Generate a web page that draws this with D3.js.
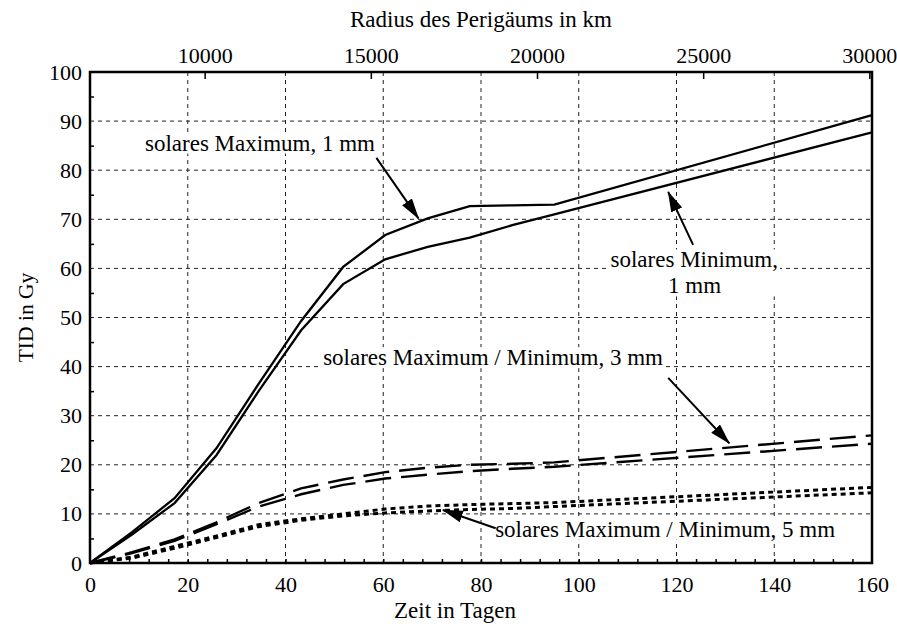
<!DOCTYPE html>
<html>
<head>
<meta charset="utf-8">
<script src="https://cdn.jsdelivr.net/npm/d3@7"></script>
<style>
body { margin: 0; background: #fff; }
text { font-family: "Liberation Serif", "Times New Roman", serif; fill: #000; }
</style>
</head>
<body>
<div id="chart"></div>
<script>
// values: total ionising dose (Gy) over time (days)
var days = [0, 8.6, 17.3, 25.9, 34.5, 43.2, 51.8, 60.4, 69.1, 77.7, 86.4, 95, 160]
var max1mm = [0, 6.3, 13.2, 23.4, 36.5, 49.3, 60.3, 66.8, 70.2, 72.7, 72.85, 73.0, 91.2]
var min1mm = [0, 5.8, 12.2, 22.0, 35.0, 47.4, 56.8, 61.85, 64.4, 66.25, 68.8, 71.0, 87.7]
var max3mm = [0, 2.2, 4.8, 8.3, 12.2, 15.2, 17.0, 18.5, 19.4, 20.0, 20.2, 20.5, 26.0]
var min3mm = [0, 2.0, 4.5, 7.9, 11.5, 14.0, 15.9, 17.2, 18.0, 18.7, 19.2, 19.6, 24.3]
var max5mm = [0, 1.2, 3.4, 5.5, 7.8, 9.0, 10.0, 11.0, 11.6, 11.9, 12.1, 12.3, 15.4]
var min5mm = [0, 1.0, 3.0, 5.2, 7.4, 8.7, 9.6, 10.2, 10.6, 10.9, 11.1, 11.5, 14.3]

// tick labels
var dayTicks = [0, 20, 40, 60, 80, 100, 120, 140, 160]
var doseTicks = [0, 10, 20, 30, 40, 50, 60, 70, 80, 90, 100]
var radiusTicks = [10000, 15000, 20000, 25000, 30000]
var radiusDomain = [6550, 30080]

// set the dimensions and margins of the graph
var width = 897
var height = 626
var margin = { top: 72, right: 25, bottom: 63, left: 90 }
var w = width - margin.left - margin.right
var h = height - margin.top - margin.bottom

var svg = d3.select("#chart")
    .append("svg")
    .attr("width", width)
    .attr("height", height)

var g = svg.append("g")
    .attr("transform", "translate(" + margin.left + "," + margin.top + ")")

var x = d3.scaleLinear().domain([0, 160]).range([0, w])
var y = d3.scaleLinear().domain([0, 100]).range([h, 0])
var xTop = d3.scaleLinear().domain(radiusDomain).range([0, w])

// arrow head
svg.append("defs").append("marker")
    .attr("id", "arrow")
    .attr("markerUnits", "userSpaceOnUse")
    .attr("markerWidth", 21)
    .attr("markerHeight", 12)
    .attr("refX", 20)
    .attr("refY", 6)
    .attr("orient", "auto")
    .append("path")
    .attr("d", "M0,0L21,6L0,12Z")
    .style("fill", "#000")

// dashed grid
g.append("g")
    .selectAll("line.vgrid")
    .data(dayTicks.slice(1, -1))
    .enter().append("line")
    .attr("x1", function(d) { return x(d) })
    .attr("x2", function(d) { return x(d) })
    .attr("y1", 0).attr("y2", h)
g.append("g")
    .selectAll("line.hgrid")
    .data(doseTicks.slice(1, -1))
    .enter().append("line")
    .attr("x1", 0).attr("x2", w)
    .attr("y1", function(d) { return y(d) })
    .attr("y2", function(d) { return y(d) })
g.selectAll("line")
    .style("stroke", "#222")
    .style("stroke-width", 1)
    .style("stroke-dasharray", "4,4")

// bottom axis: minor ticks inside, labels below
g.append("g")
    .attr("transform", "translate(0," + h + ")")
    .call(d3.axisBottom(x).tickValues(d3.range(4, 160, 4)).tickSize(-4).tickFormat(""))
g.append("g")
    .attr("transform", "translate(0," + h + ")")
    .call(d3.axisBottom(x).tickValues(dayTicks).tickSize(0).tickPadding(13))

// left axis
g.append("g")
    .call(d3.axisLeft(y).tickValues(d3.range(5, 100, 10)).tickSize(-4).tickFormat(""))
g.append("g")
    .call(d3.axisLeft(y).tickValues(doseTicks).tickSize(0).tickPadding(8))

// top axis: perigee radius
g.append("g")
    .call(d3.axisTop(xTop).tickValues(radiusTicks).tickSizeInner(-7).tickSizeOuter(0).tickPadding(9).tickFormat(d3.format("d")))

g.selectAll(".domain").remove()
g.selectAll(".tick line").style("stroke", "#000").style("stroke-width", 1.5)
g.selectAll(".tick text")
    .style("font-size", "22px")
    .style("font-family", "'Liberation Serif', 'Times New Roman', serif")

// frame
g.append("rect")
    .attr("width", w)
    .attr("height", h)
    .style("fill", "none")
    .style("stroke", "#000")
    .style("stroke-width", 2.5)

// curves
var series = [
    { values: max1mm, dash: null, sw: 2.3 },
    { values: min1mm, dash: null, sw: 2.3 },
    { values: max3mm, dash: "26,10", sw: 2.4 },
    { values: min3mm, dash: "26,10", sw: 2.4 },
    { values: max5mm, dash: "5,4", sw: 3 },
    { values: min5mm, dash: "5,4", sw: 3 }
]
var line = d3.line()
    .x(function(d, i) { return x(days[i]) })
    .y(function(d) { return y(d) })

g.append("g")
    .selectAll("path")
    .data(series)
    .enter().append("path")
    .attr("d", function(d) { return line(d.values) })
    .style("fill", "none")
    .style("stroke", "#000")
    .style("stroke-width", function(d) { return d.sw })
    .style("stroke-dasharray", function(d) { return d.dash })
    .style("stroke-linejoin", "miter")

// annotations (positions in data units)
var notes = [
    { lines: ["solares Maximum, 1 mm"], tx: 11.25, ty: 84.0, from: [58.6, 82.5], to: [67.2, 70.2] },
    { lines: ["solares Minimum,", "1 mm"], tx: 106.5, ty: 60.2, from: [123.4, 64.8], to: [118.3, 75.6] },
    { lines: ["solares Maximum / Minimum, 3 mm"], tx: 47.7, ty: 40.3, from: [118.3, 37.7], to: [130.8, 24.4] },
    { lines: ["solares Maximum / Minimum, 5 mm"], tx: 82.9, ty: 5.36, from: [83.0, 7.07], to: [72.2, 10.8] }
]

notes.forEach(function(n) {
    var lab = g.append("g")
    var t = lab.append("text")
        .attr("x", x(n.tx))
        .attr("y", y(n.ty))
        .style("font-size", "23px")
    n.lines.forEach(function(s, i) {
        var ts = t.append("tspan").text(s)
        if (i > 0) {
            // second line is centred under the first
            ts.attr("x", x(n.tx) + 84).attr("dy", 26).attr("text-anchor", "middle")
        }
    })
    var bb = t.node().getBBox()
    lab.insert("rect", "text")
        .attr("x", bb.x - 2).attr("y", bb.y + 2)
        .attr("width", bb.width + 4).attr("height", bb.height - 4)
        .style("fill", "#fff")

    g.append("line")
        .attr("x1", x(n.from[0])).attr("y1", y(n.from[1]))
        .attr("x2", x(n.to[0])).attr("y2", y(n.to[1]))
        .style("stroke", "#000")
        .style("stroke-width", 2)
        .attr("marker-end", "url(#arrow)")
})

// axis titles
svg.append("text")
    .attr("x", margin.left + w / 2)
    .attr("y", 27)
    .attr("text-anchor", "middle")
    .style("font-size", "23px")
    .text("Radius des Perigäums in km")

svg.append("text")
    .attr("x", 455)
    .attr("y", 618)
    .attr("text-anchor", "middle")
    .style("font-size", "23px")
    .text("Zeit in Tagen")

svg.append("text")
    .attr("transform", "translate(33," + (margin.top + h / 2) + ") rotate(-90)")
    .attr("text-anchor", "middle")
    .style("font-size", "21.5px")
    .text("TID in Gy")
</script>
</body>
</html>
